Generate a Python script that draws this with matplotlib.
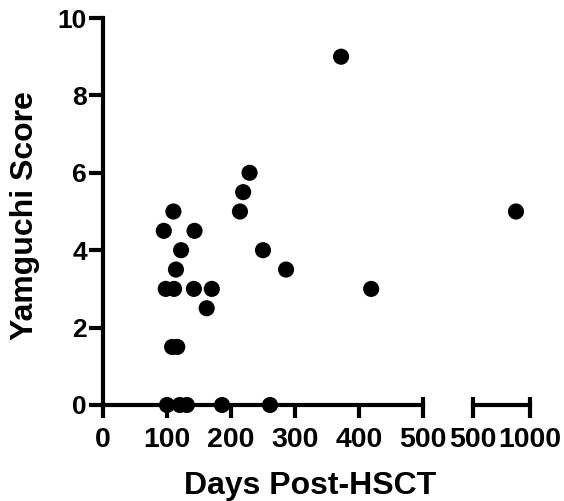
import matplotlib
matplotlib.use("Agg")
import matplotlib.pyplot as plt
import numpy as np

plt.rcParams['font.family'] = ['Liberation Sans', 'DejaVu Sans']
plt.rcParams['font.weight'] = 'bold'

# Data
days = [100, 120, 131, 186, 261, 108, 116, 162, 98, 111, 142, 170, 114, 286,
        122, 250, 95, 143, 110, 214, 219, 229, 372, 419, 877]
scores = [0, 0, 0, 0, 0, 1.5, 1.5, 2.5, 3, 3, 3, 3, 3.5, 3.5,
          4, 4, 4.5, 4.5, 5, 5, 5.5, 6, 9, 3, 5]
x_ticks_left = [0, 100, 200, 300, 400, 500]
x_ticks_right = [500, 1000]
y_ticks = [0, 2, 4, 6, 8, 10]

days = np.array(days)
scores = np.array(scores)

W, H = 564, 501
fig = plt.figure(figsize=(W / 100, H / 100), dpi=100)

bottom = (H - 405) / H
top = (H - 18) / H
ax1 = fig.add_axes([103 / W, bottom, (423 - 103) / W, top - bottom])
ax2 = fig.add_axes([473 / W, bottom, (530 - 473) / W, top - bottom])

lw = 3.0
ms = 135
xtick_fs = 20.5
ytick_fs = 19
label_fs = 23

left_mask = days <= 500
ax1.scatter(days[left_mask], scores[left_mask], s=ms, color='black',
            edgecolors='none', clip_on=False, zorder=5)
ax2.scatter(days[~left_mask], scores[~left_mask], s=ms, color='black',
            edgecolors='none', clip_on=False, zorder=5)

# main axes
ax1.set_xlim(0, 500)
ax1.set_ylim(0, 10)
for s in ['top', 'right']:
    ax1.spines[s].set_visible(False)
for s in ['left', 'bottom']:
    ax1.spines[s].set_linewidth(lw)
    ax1.spines[s].set_capstyle('projecting')
ax1.set_xticks(x_ticks_left)
ax1.set_xticklabels([str(t) for t in x_ticks_left])
ax1.set_yticks(y_ticks)
ax1.set_yticklabels([str(t) for t in y_ticks])
ax1.xaxis.remove_overlapping_locs = False
ax1.set_xticks([500], minor=True)
ax1.tick_params(axis='x', which='major', direction='out', length=9.5, width=lw,
                labelsize=xtick_fs, pad=6.5)
ax1.tick_params(axis='x', which='minor', direction='in', length=6, width=lw)
ax1.tick_params(axis='y', which='major', direction='out', length=10, width=lw,
                labelsize=ytick_fs, pad=1.5)

# right (broken) axes
ax2.set_xlim(500, 1000)
ax2.set_ylim(0, 10)
for s in ['top', 'right', 'left']:
    ax2.spines[s].set_visible(False)
ax2.spines['bottom'].set_linewidth(lw)
ax2.set_yticks([])
ax2.set_xticks(x_ticks_right)
ax2.set_xticklabels([str(t) for t in x_ticks_right])
ax2.xaxis.remove_overlapping_locs = False
ax2.set_xticks(x_ticks_right, minor=True)
ax2.tick_params(axis='x', which='major', direction='out', length=9.5, width=lw,
                labelsize=xtick_fs, pad=6.5)
ax2.tick_params(axis='x', which='minor', direction='in', length=6, width=lw)
ax2.patch.set_visible(False)

for a in (ax1, ax2):
    for lab in a.get_xticklabels():
        lab.set_fontweight('bold')
        lab.set_fontsize(xtick_fs)
    for lab in a.get_yticklabels():
        lab.set_fontweight('bold')
        lab.set_fontsize(ytick_fs)

fig.text(310 / W, (H - 494) / H, 'Days Post-HSCT', ha='center', va='baseline',
         fontsize=label_fs, fontweight='bold')
fig.text(25 / W, (H - 216) / H, 'Yamguchi Score', ha='center', va='center',
         rotation=90, fontsize=label_fs, fontweight='bold')

fig.savefig('out.png', dpi=100)
